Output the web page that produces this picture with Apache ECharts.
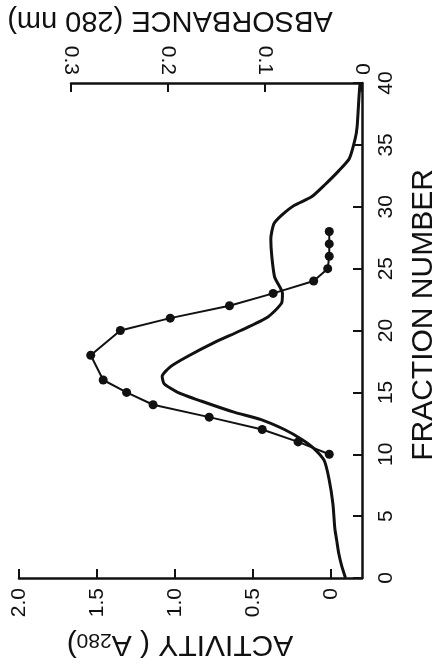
<!DOCTYPE html>
<html>
<head>
<meta charset="utf-8">
<script src="https://cdn.jsdelivr.net/npm/echarts@6/dist/echarts.min.js"></script>
<style>
html,body{margin:0;padding:0;background:#fff;}
#chart{width:437px;height:664px;}
</style>
</head>
<body>
<div id="chart"></div>
<script>
// Activity (A280) measured per fraction (dots)
const activityFraction = [10,11,12,13,14,15,16,18,20,21,22,23,24,25,26,27,28];
const activityValue = [0.01,0.21,0.44,0.78,1.14,1.31,1.46,1.54,1.35,1.03,0.65,0.37,0.11,0.02,0.01,0.01,0.01];

// Absorbance (280 nm) continuous trace
const absorbanceFraction = [0,1,2,3,4,6,8,9.5,10.5,11.2,12,12.8,13.4,14.3,15,15.7,16.3,17.1,17.9,19,20,21.1,22.2,23,24.3,26,27.4,28.6,29.3,30.1,30.8,31.8,32.9,33.9,35.5,36.5,39,40];
const absorbanceValue = [0.017,0.021,0.024,0.026,0.028,0.030,0.034,0.039,0.050,0.062,0.080,0.104,0.132,0.166,0.190,0.204,0.206,0.197,0.180,0.153,0.125,0.097,0.083,0.082,0.090,0.093,0.094,0.091,0.083,0.070,0.052,0.038,0.024,0.013,0.007,0.005,0.003,0.002];

// Tick labels
const activityTickValues = [0,0.5,1,1.5,2];
const activityTickLabels = ['0','0.5','1.0','1.5','2.0'];
const absorbanceTickValues = [0,0.1,0.2,0.3];
const absorbanceTickLabels = ['0','0.1','0.2','0.3'];
const fractionTickValues = [0,5,10,15,20,25,30,35,40];
const fractionTickLabels = ['0','5','10','15','20','25','30','35','40'];

const FONT = '"Liberation Sans", Arial, Helvetica, sans-serif';
const INK = '#111';

const chart = echarts.init(document.getElementById('chart'));

function lbl(values, labels){
  return function(v){
    for (let i=0;i<values.length;i++){ if (Math.abs(values[i]-v)<1e-9) return labels[i]; }
    return '';
  };
}

const axisLineStyle = {show:true, onZero:false, lineStyle:{color:INK, width:2.5}};
const tickStyle = {show:true, inside:true, length:9, lineStyle:{color:INK, width:2}};

chart.setOption({
  backgroundColor:'#fff',
  animation:false,
  grid:[
    {left:19, right:75, top:83, bottom:86},
    {left:71, right:75, top:83, bottom:86}
  ],
  xAxis:[
    {
      gridIndex:0, type:'value', min:-0.2, max:2.0, inverse:true, position:'bottom',
      axisLine:axisLineStyle,
      axisTick:Object.assign({customValues:activityTickValues}, tickStyle),
      axisLabel:{customValues:activityTickValues, formatter:lbl(activityTickValues, activityTickLabels),
        rotate:90, margin:10, fontSize:21, fontFamily:FONT, color:INK},
      splitLine:{show:false}
    },
    {
      gridIndex:1, type:'value', min:0, max:0.3, interval:0.1, inverse:true, position:'top',
      axisLine:axisLineStyle,
      axisTick:tickStyle,
      axisLabel:{formatter:lbl(absorbanceTickValues, absorbanceTickLabels),
        rotate:90, margin:8, fontSize:21, fontFamily:FONT, color:INK},
      splitLine:{show:false}
    }
  ],
  yAxis:[
    {
      gridIndex:0, type:'value', min:0, max:40, interval:5, position:'right',
      axisLine:axisLineStyle,
      axisTick:tickStyle,
      axisLabel:{formatter:lbl(fractionTickValues, fractionTickLabels),
        rotate:90, margin:14, fontSize:21, fontFamily:FONT, color:INK},
      splitLine:{show:false}
    },
    {
      gridIndex:1, type:'value', min:0, max:40, interval:5, show:false
    }
  ],
  graphic:[
    {type:'text', x:170, y:20, rotation:Math.PI,
      style:{text:'ABSORBANCE (280 nm)', font:'29px '+FONT, fill:INK, align:'center', verticalAlign:'middle'}},
    {type:'text', x:180, y:644, rotation:Math.PI,
      style:{text:'{a|ACTIVITY ( A}{b|280}{a|)}', fill:INK, align:'center', verticalAlign:'middle',
        rich:{a:{fontSize:30, fontFamily:FONT, fill:INK}, b:{fontSize:21, fontFamily:FONT, fill:INK, verticalAlign:'bottom'}}}},
    {type:'text', x:424, y:315, rotation:Math.PI/2,
      style:{text:'FRACTION NUMBER', font:'30px '+FONT, fill:INK, align:'center', verticalAlign:'middle'}}
  ],
  series:[
    {
      name:'Absorbance', type:'line', xAxisIndex:1, yAxisIndex:1,
      data:absorbanceFraction.map((f,i)=>[absorbanceValue[i], f]),
      showSymbol:false, symbol:'none', smooth:0.2,
      lineStyle:{color:INK, width:3}
    },
    {
      name:'Activity', type:'line', xAxisIndex:0, yAxisIndex:0,
      data:activityFraction.map((f,i)=>[activityValue[i], f]),
      symbol:'circle', symbolSize:9,
      itemStyle:{color:INK},
      lineStyle:{color:INK, width:2}
    }
  ]
});
</script>
</body>
</html>
